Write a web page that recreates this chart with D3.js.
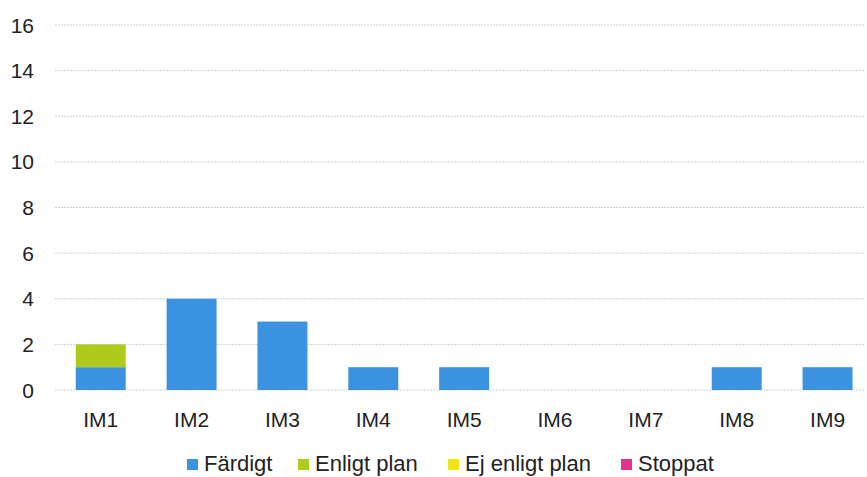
<!DOCTYPE html>
<html><head><meta charset="utf-8">
<script src="https://cdn.jsdelivr.net/npm/d3@7"></script>
<style>body{margin:0;background:#fff}svg{display:block;font-family:"Liberation Sans",Arial,sans-serif}</style>
</head><body><svg id="c" width="867" height="477"></svg>
<script>
const categories = ["IM1","IM2","IM3","IM4","IM5","IM6","IM7","IM8","IM9"];
const seriesNames = ["Färdigt","Enligt plan","Ej enligt plan","Stoppat"];
const fardigt     = [1,4,3,1,1,0,0,1,1];
const enligtPlan  = [1,0,0,0,0,0,0,0,0];
const ejEnligt    = [0,0,0,0,0,0,0,0,0];
const stoppat     = [0,0,0,0,0,0,0,0,0];
const yTicks = [0,2,4,6,8,10,12,14,16];
const colors = ["#3a92e0","#aecb1c","#f2e312","#e0338c"];

const svg = d3.select("#c");
const x = d3.scaleBand().domain(categories).range([55.3,873]).paddingInner(0.45).paddingOuter(0.225);
const y = d3.scaleLinear().domain([0,16]).range([390,25]);

// grid
svg.append("g").selectAll("line").data(yTicks).join("line")
  .attr("x1",55).attr("x2",865).attr("y1",d=>y(d)).attr("y2",d=>y(d))
  .attr("stroke","#cfcfcf").attr("stroke-width",1).attr("stroke-dasharray","2,1");

// y labels
svg.append("g").selectAll("text").data(yTicks).join("text")
  .attr("x",34).attr("y",d=>y(d)).attr("dy","0.36em").attr("text-anchor","end")
  .attr("font-size",21).attr("fill","#222").text(d=>d);

const table = categories.map((c,i)=>({cat:c,"Färdigt":fardigt[i],"Enligt plan":enligtPlan[i],"Ej enligt plan":ejEnligt[i],"Stoppat":stoppat[i]}));
const stack = d3.stack().keys(seriesNames)(table);
svg.append("g").selectAll("g").data(stack).join("g").attr("fill",(d,i)=>colors[i])
  .selectAll("rect").data(d=>d).join("rect")
  .attr("x",d=>x(d.data.cat)).attr("width",x.bandwidth())
  .attr("y",d=>y(d[1])).attr("height",d=>y(d[0])-y(d[1]));

// x labels
svg.append("g").selectAll("text").data(categories).join("text")
  .attr("x",d=>x(d)+x.bandwidth()/2).attr("y",427).attr("text-anchor","middle")
  .attr("font-size",21).attr("fill","#222").text(d=>d);

// legend
const legX = [187,298,448,621];
const lg = svg.append("g").selectAll("g").data(seriesNames).join("g")
  .attr("transform",(d,i)=>`translate(${legX[i]},471)`);
lg.append("rect").attr("x",0).attr("y",-12).attr("width",11).attr("height",11).attr("fill",(d,i)=>colors[i]);
lg.append("text").attr("x",17).attr("y",0).attr("font-size",22).attr("fill","#222").text(d=>d);
</script></body></html>
